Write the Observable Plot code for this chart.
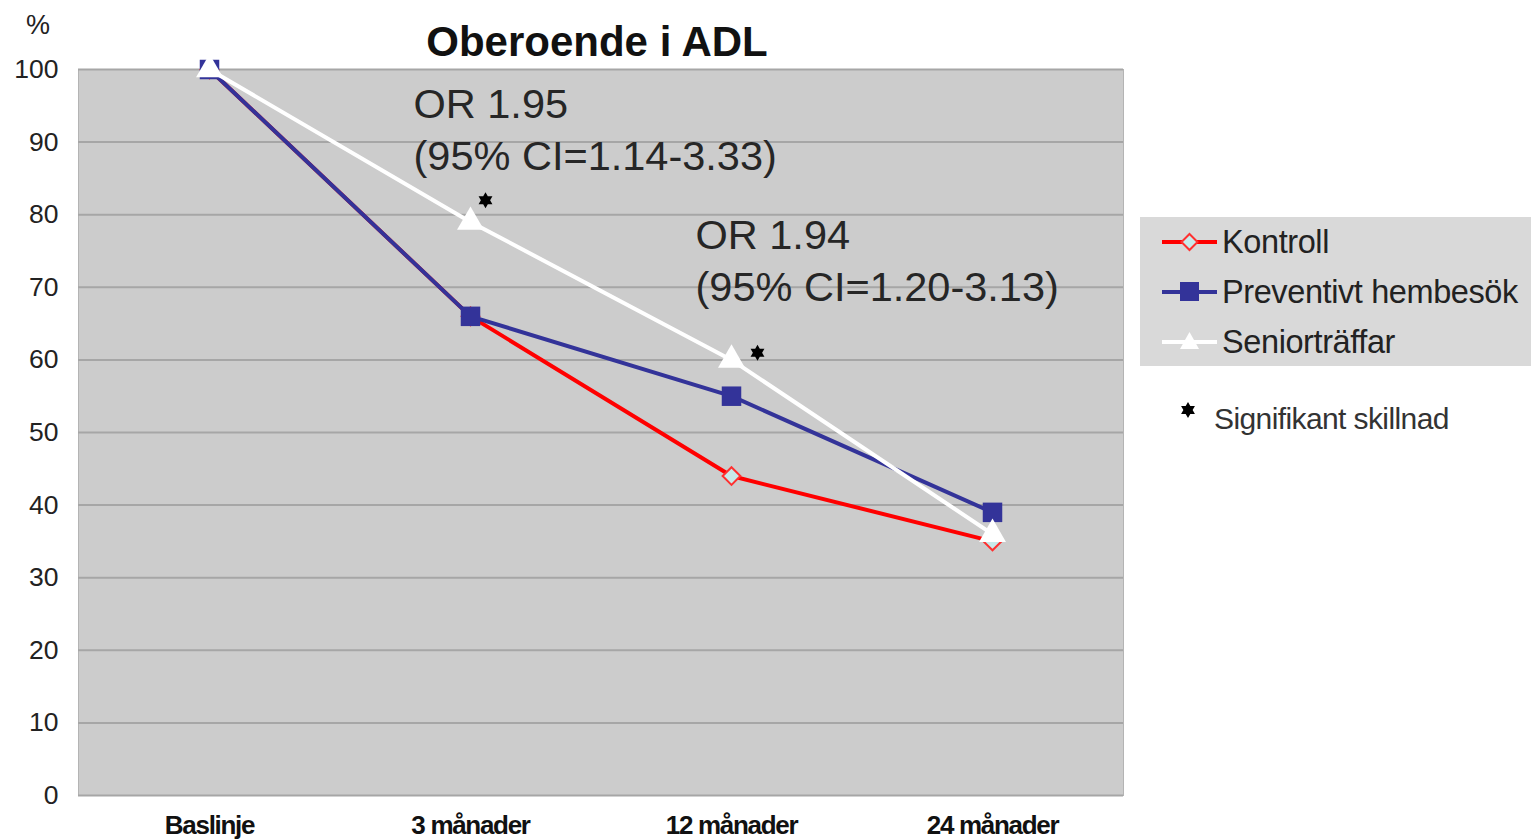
<!DOCTYPE html>
<html>
<head>
<meta charset="utf-8">
<script src="https://cdn.jsdelivr.net/npm/d3@7"></script>
<script src="https://cdn.jsdelivr.net/npm/@observablehq/plot@0.6"></script>
<style>
  html, body { margin: 0; padding: 0; background: #fff; }
  #wrap { position: relative; width: 1531px; height: 840px; overflow: hidden; font-family: "Liberation Sans", Arial, sans-serif; }
  #chart { position: absolute; left: 0; top: 0; }
  #title { position: absolute; left: 347px; width: 500px; top: 16px; text-align: center; font-weight: bold; font-size: 42px; color: #111; line-height: 52px; }
  #unit { position: absolute; left: 26px; top: 10px; font-size: 27px; color: #222; }
  #legend { position: absolute; left: 1140px; top: 217px; width: 391px; height: 149px; background: #d9d9d9; }
  .item { position: absolute; left: 22px; height: 50px; display: flex; align-items: center; font-size: 32.5px; color: #222; white-space: nowrap; letter-spacing: -0.4px; }
  .item svg { margin-right: 4px; }
  #sig { position: absolute; left: 1178px; top: 402px; font-size: 30px; color: #333; display: flex; align-items: center; white-space: nowrap; letter-spacing: -0.6px; }
  #sig svg { margin-right: 16px; position: relative; top: -9px; }
</style>
</head>
<body>
<div id="wrap">
  <div id="chart"></div>
  <div id="title"></div>
  <div id="unit">%</div>
  <div id="legend"></div>
  <div id="sig"><svg width="20" height="20"><path id="sigstar" fill="#000"/></svg><span id="sigtext"></span></div>
</div>
<script>
// ---- data ----
const categories = ["Baslinje", "3 månader", "12 månader", "24 månader"];
const kontroll = [100, 66, 44, 35];
const preventivt = [100, 66, 55, 39];
const senior = [100, 79, 60, 36];
const seriesNames = ["Kontroll", "Preventivt hembesök", "Seniorträffar"];
const yTicks = [0, 10, 20, 30, 40, 50, 60, 70, 80, 90, 100];
const starCats = ["3 månader", "12 månader"];
const starValues = [82, 61];
const annotationCats = ["3 månader", "12 månader"];
const annotationValues = [92, 74];
const annotationLabels = ["OR 1.95\n(95% CI=1.14-3.33)", "OR 1.94\n(95% CI=1.20-3.13)"];
const titleText = "Oberoende i ADL";
const sigLabel = "Signifikant skillnad";

// ---- build ----
const seriesValues = [kontroll, preventivt, senior];
const colors = ["#ff0000", "#333399", "#ffffff"];
const rows = [];
seriesNames.forEach((s, i) => categories.forEach((c, j) => rows.push({series: s, cat: c, value: seriesValues[i][j]})));
const bySeries = s => rows.filter(d => d.series === s);
const stars = starCats.map((c, i) => ({cat: c, value: starValues[i]}));
const annos = annotationCats.map((c, i) => ({cat: c, value: annotationValues[i], label: annotationLabels[i]}));

// six-pointed star symbol
const hexagram = {
  draw(context, size) {
    const R = Math.sqrt(size / Math.PI);
    const r = R / Math.sqrt(3);
    for (let k = 0; k < 12; k++) {
      const a = -Math.PI / 2 + k * Math.PI / 6;
      const rr = k % 2 === 0 ? R : r;
      const x = rr * Math.cos(a), y = rr * Math.sin(a);
      if (k === 0) context.moveTo(x, y); else context.lineTo(x, y);
    }
    context.closePath();
  }
};

const chart = Plot.plot({
  width: 1531,
  height: 840,
  marginLeft: 78,
  marginRight: 408,
  marginTop: 69,
  marginBottom: 45,
  style: {background: "transparent", fontFamily: "'Liberation Sans', Arial, sans-serif", color: "#222"},
  x: {type: "point", domain: categories, padding: 0.5, label: null},
  y: {domain: [0, 100], label: null},
  marks: [
    Plot.frame({fill: "#cccccc", stroke: "#b4b4b4"}),
    Plot.gridY(yTicks, {stroke: "#a6a6a6", strokeOpacity: 1, strokeWidth: 2}),
    Plot.axisY(yTicks, {tickSize: 0, tickPadding: 20, fontSize: 26.5, fill: "#222", label: null}),
    Plot.axisX({tickSize: 0, tickPadding: 20, fontSize: 26, fontWeight: "bold", fill: "#111", label: null}),
    Plot.line(bySeries(seriesNames[0]), {x: "cat", y: "value", stroke: colors[0], strokeWidth: 4}),
    Plot.dot(bySeries(seriesNames[0]), {x: "cat", y: "value", symbol: "diamond2", r: 8, fill: "#c8eaea", stroke: "#ff3030", strokeWidth: 2}),
    Plot.line(bySeries(seriesNames[1]), {x: "cat", y: "value", stroke: colors[1], strokeWidth: 4}),
    Plot.dot(bySeries(seriesNames[1]), {x: "cat", y: "value", symbol: "square", r: 11, fill: colors[1]}),
    Plot.line(bySeries(seriesNames[2]), {x: "cat", y: "value", stroke: colors[2], strokeWidth: 4}),
    Plot.dot(bySeries(seriesNames[2]), {x: "cat", y: "value", symbol: "triangle", r: 10, fill: colors[2]}),
    Plot.dot([stars[0]], {x: "cat", y: "value", symbol: hexagram, r: 8, fill: "#000", dx: 15}),
    Plot.dot([stars[1]], {x: "cat", y: "value", symbol: hexagram, r: 8, fill: "#000", dx: 26}),
    Plot.text([annos[0]], {x: "cat", y: "value", text: "label", dx: -57, textAnchor: "start", lineAnchor: "middle", lineHeight: 1.26, fontSize: 41.5, fill: "#262626"}),
    Plot.text([annos[1]], {x: "cat", y: "value", text: "label", dx: -36, textAnchor: "start", lineAnchor: "middle", lineHeight: 1.26, fontSize: 41.5, fill: "#262626"})
  ]
});
// condensed look for bold x tick labels
d3.select(chart).selectAll('g[aria-label="x-axis tick label"] text').style("letter-spacing", "-1.3px");
document.getElementById("chart").appendChild(chart);
document.getElementById("title").textContent = titleText;
document.getElementById("sigtext").textContent = sigLabel;

// legend star (same hexagram)
{
  const p = d3.path();
  hexagram.draw(p, Math.PI * 64);
  document.getElementById("sigstar").setAttribute("d", p.toString());
  document.getElementById("sigstar").setAttribute("transform", "translate(10,10)");
}

// legend
const legend = document.getElementById("legend");
const markers = [
  `<line x1="0" y1="12" x2="55" y2="12" stroke="${colors[0]}" stroke-width="4"/><path d="M27.5 4 L35.5 12 L27.5 20 L19.5 12 Z" fill="#c8eaea" stroke="#ff3030" stroke-width="2"/>`,
  `<line x1="0" y1="12" x2="55" y2="12" stroke="${colors[1]}" stroke-width="4"/><rect x="18" y="2" width="19" height="19" fill="${colors[1]}"/>`,
  `<line x1="0" y1="12" x2="55" y2="12" stroke="${colors[2]}" stroke-width="4"/><path d="M27.5 2 L37 19 L18 19 Z" fill="${colors[2]}"/>`
];
seriesNames.forEach((s, i) => {
  const d = document.createElement("div");
  d.className = "item";
  d.style.top = (0 + i * 50) + "px";
  d.innerHTML = `<svg width="56" height="24">${markers[i]}</svg>`;
  const t = document.createElement("span");
  t.textContent = s;
  d.appendChild(t);
  legend.appendChild(d);
});
</script>
</body>
</html>
